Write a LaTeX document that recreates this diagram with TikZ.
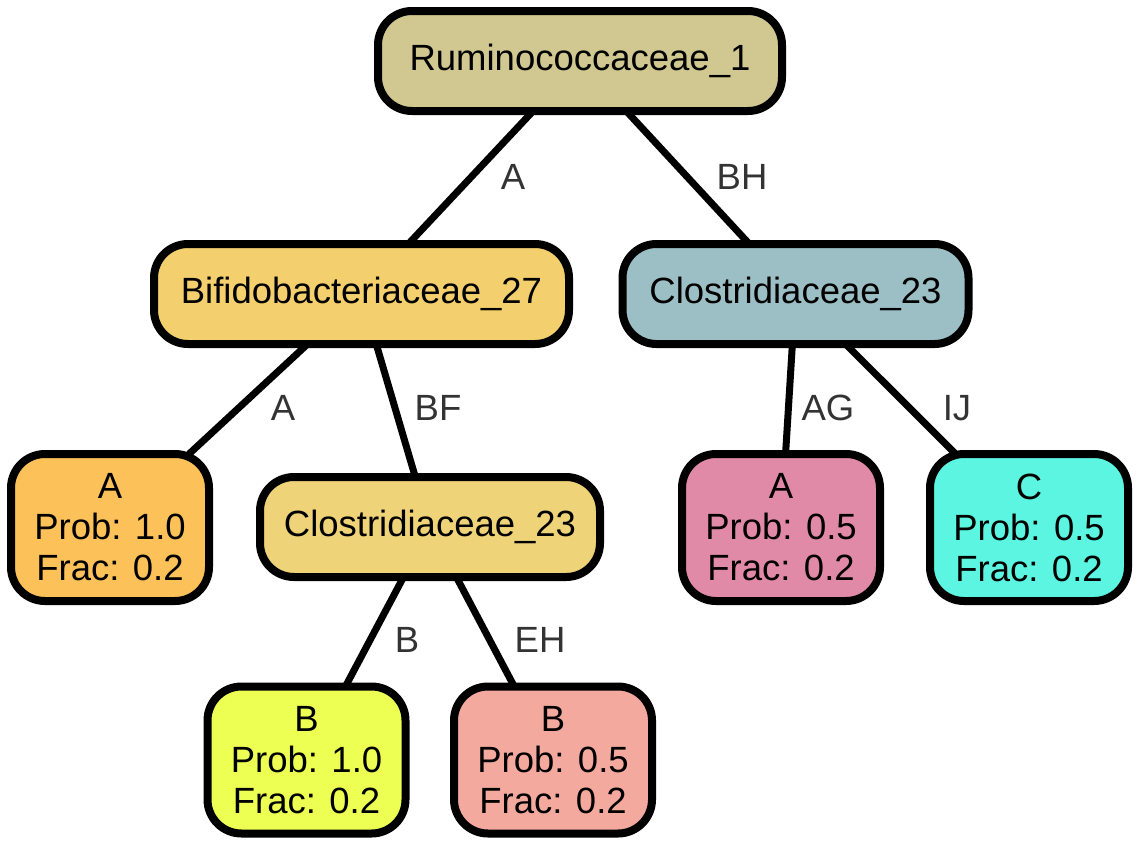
\documentclass[tikz,border=0pt]{standalone}
\usepackage{fontspec}
\setmainfont{Liberation Sans}
\definecolor{cTop}{HTML}{D1C891}
\definecolor{cBif}{HTML}{F4CF6E}
\definecolor{cOrA}{HTML}{FDC159}
\definecolor{cMidC}{HTML}{EFD379}
\definecolor{cRC}{HTML}{9BBFC5}
\definecolor{cBy}{HTML}{EDFF52}
\definecolor{cBp}{HTML}{F4A99F}
\definecolor{cAp}{HTML}{E08AA8}
\definecolor{cC}{HTML}{5BF5E1}
\definecolor{labgray}{HTML}{333333}
\begin{document}
\begin{tikzpicture}[x=1pt,y=-1pt,
  tnode/.style={draw=black, line width=8pt, rounded corners=34pt, inner sep=0pt, outer sep=0pt,
    align=center, font=\fontsize{36.5}{41}\selectfont, text=black},
  inode/.style={tnode, minimum height=100pt},
  leaf/.style={tnode, minimum width=198pt, minimum height=147pt},
  elab/.style={font=\fontsize{36.5}{41}\selectfont, text=labgray, inner sep=0pt},
  conn/.style={line width=7pt, draw=black}]
\useasboundingbox (0,0) rectangle (1139,846);
\node[inode, fill=cTop, minimum width=404pt] (r) at (580,61) {Ruminococcaceae\_1};
\node[inode, fill=cBif, minimum width=415pt] (bif) at (361.5,294) {Bifidobacteriaceae\_27};
\node[inode, fill=cRC, minimum width=346pt] (rc) at (795.5,294) {Clostridiaceae\_23};
\node[leaf, fill=cOrA] (la) at (110,527.5) {A\\Prob: 1.0\\Frac: 0.2};
\node[inode, fill=cMidC, minimum width=340pt] (mc) at (430,527) {Clostridiaceae\_23};
\node[leaf, fill=cAp] (lap) at (781,527.5) {A\\Prob: 0.5\\Frac: 0.2};
\node[leaf, fill=cC] (lc) at (1029,527.5) {C\\Prob: 0.5\\Frac: 0.2};
\node[leaf, fill=cBy] (lby) at (306.5,760) {B\\Prob: 1.0\\Frac: 0.2};
\node[leaf, fill=cBp] (lbp) at (553,760) {B\\Prob: 0.5\\Frac: 0.2};
\draw[conn] (r) -- (bif);
\draw[conn] (r) -- (rc);
\draw[conn] (bif) -- (la);
\draw[conn] (bif) -- (mc);
\draw[conn] (mc) -- (lby);
\draw[conn] (mc) -- (lbp);
\draw[conn] (rc) -- (lap);
\draw[conn] (rc) -- (lc);
\node[elab] (e1) at (513,177) {A};
\node[elab] (e2) at (742,177) {BH};
\node[elab] (e3) at (283,408) {A};
\node[elab] (e4) at (438,408) {BF};
\node[elab] (e5) at (828,408) {AG};
\node[elab] (e6) at (957,408) {IJ};
\node[elab] (e7) at (407,640) {B};
\node[elab] (e8) at (540,640) {EH};
\end{tikzpicture}
\end{document}
